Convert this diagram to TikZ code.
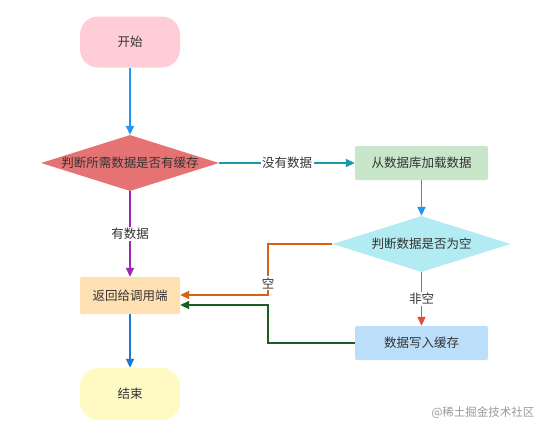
\documentclass[tikz,border=0pt]{standalone}
\usepackage{fontspec}
\setmainfont{Noto Sans CJK SC}
\usetikzlibrary{shapes.geometric,arrows.meta}
\definecolor{cStart}{HTML}{FFCDD6}
\definecolor{cD1}{HTML}{E57373}
\definecolor{cLoad}{HTML}{C8E6C9}
\definecolor{cD2}{HTML}{B2EBF2}
\definecolor{cWrite}{HTML}{BBDEFB}
\definecolor{cRet}{HTML}{FFE0B2}
\definecolor{cEnd}{HTML}{FFF9C4}
\definecolor{aBlue}{HTML}{2196F3}
\definecolor{aBlue2}{HTML}{1E78D2}
\definecolor{aTeal}{HTML}{1A9AA8}
\definecolor{aPurple}{HTML}{9C27B0}
\definecolor{aRed}{HTML}{E74C3C}
\definecolor{aOrange}{HTML}{D9600F}
\definecolor{aGreen}{HTML}{1B5E20}
\definecolor{txt}{HTML}{333333}
\begin{document}
\begin{tikzpicture}[x=1pt,y=-1pt,
  every node/.style={font=\fontsize{12.5}{14}\selectfont, text=txt},
  term/.style={draw=none, rounded corners=18pt, minimum width=100pt, minimum height=51pt},
  proc/.style={draw=none, rounded corners=1.5pt, minimum width=133pt, minimum height=34pt},
  dia/.style={draw=none, diamond, aspect=3.18, minimum width=178pt, minimum height=56pt, inner sep=0pt},
  conn/.style={line width=1.8pt, -{Triangle[length=9pt,width=8pt]}},
  lbl/.style={fill=white, inner sep=1.5pt}
]
\useasboundingbox (0,0) rectangle (547,437);
\node[term, fill=cStart] (start) at (130,42) {开始};
\node[dia, fill=cD1] (d1) at (130,163) {判断所需数据是否有缓存};
\node[proc, fill=cLoad] (load) at (421.5,163) {从数据库加载数据};
\node[dia, fill=cD2] (d2) at (421.5,244) {判断数据是否为空};
\node[proc, fill=cWrite] (write) at (421.5,343) {数据写入缓存};
\node[proc, fill=cRet, minimum width=100pt, minimum height=37pt] (ret) at (130,295.5) {返回给调用端};
\node[term, fill=cEnd, minimum height=52pt] (end) at (130,394) {结束};
\coordinate (oB) at (268,295);
\coordinate (gB) at (268,305);
\coordinate (oL) at (268,283);

\draw[conn, aBlue] (start) -- (d1);
\draw[conn, aTeal] (d1) -- node[lbl]{没有数据} (load);
\draw[conn, aBlue] (load) -- (d2);
\draw[conn, aRed] (d2) -- node[lbl, pos=0.5]{非空} (write);
\draw[conn, aPurple] (d1) -- node[lbl]{有数据} (ret);
\draw[conn, aBlue2] (ret) -- (end);
\draw[conn, aOrange] (d2.west) -- (d2.west -| oB) -- (oB) -- (ret.east |- oB);
\node[lbl] (kong) at (oL) {空};
\draw[conn, aGreen] (write.west) -- (write.west -| gB) -- (gB) -- (ret.east |- gB);
\node[font=\fontsize{11.5}{13}\selectfont, text=black!40] (wm) at (483,413) {@稀土掘金技术社区};
\end{tikzpicture}
\end{document}
